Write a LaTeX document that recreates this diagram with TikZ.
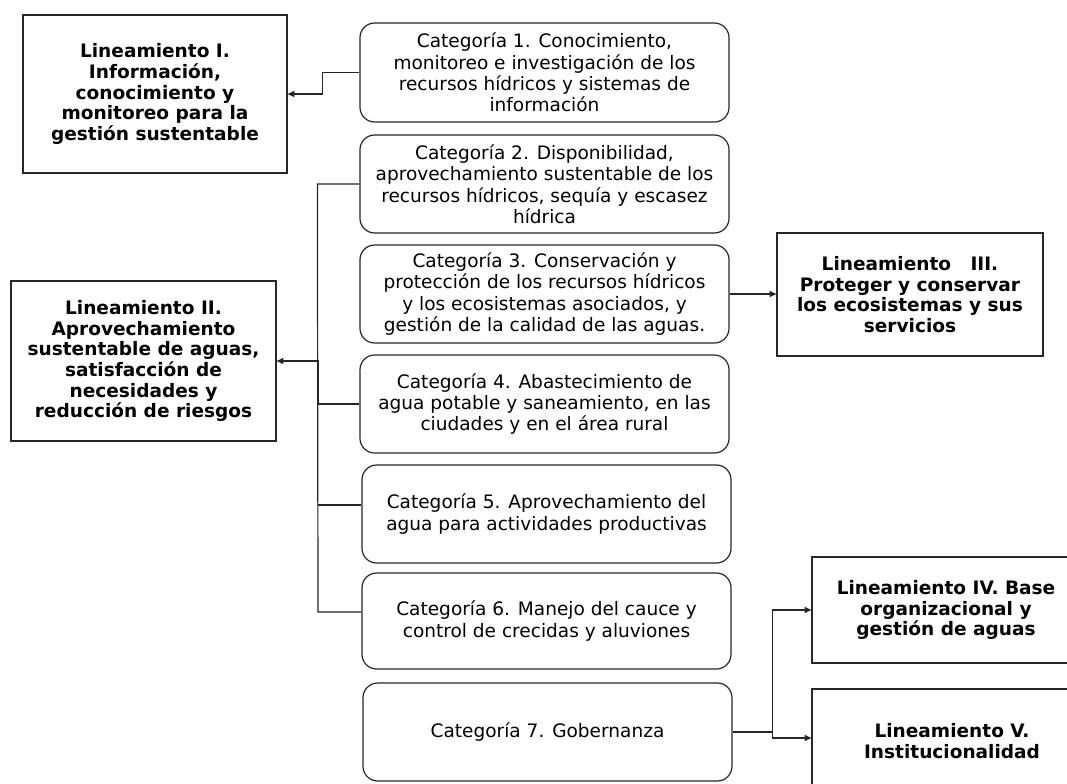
\documentclass[tikz,border=0pt]{standalone}
\usepackage{fontspec}
\setmainfont{DejaVu Sans}
\usetikzlibrary{arrows.meta}
\begin{document}
\begin{tikzpicture}[x=0.75pt,y=-0.75pt,
  base/.style={draw=black!85, line width=0.9pt, align=center, inner sep=0pt, fill=white},
  dims/.style 2 args={minimum width=#1*0.75pt, minimum height=#2*0.75pt},
  cat/.style={base, rounded corners=11pt, font=\fontsize{13.9pt}{16.1pt}\selectfont},
  lin/.style={base, font=\fontsize{13.9pt}{15.5pt}\selectfont\bfseries},
  conn/.style={line width=0.9pt, draw=black!85},
  arr/.style={conn, -{Triangle[length=5pt,width=4.5pt]}}
]
\useasboundingbox (0,0) rectangle (1067,783);
\clip (0,0) rectangle (1067,783);
\fill[white] (0,0) rectangle (1067,783);

% Lineamientos
\node[lin, dims={264}{158}] (l1) at (155,94) {Lineamiento I.\\Información,\\conocimiento y\\monitoreo para la\\gestión sustentable};
\node[lin, dims={265}{160}] (l2) at (143.5,361) {Lineamiento II.\\Aprovechamiento\\sustentable de aguas,\\satisfacción de\\necesidades y\\reducción de riesgos};
\node[lin, dims={266}{123}] (l3) at (910,294.5) {Lineamiento~~~III.\\Proteger y conservar\\los ecosistemas y sus\\servicios};
\node[lin, dims={268}{106}] (l4) at (946,610) {Lineamiento IV. Base\\organizacional y\\gestión de aguas};
\node[lin, dims={280}{104}] (l5) at (952,741) {Lineamiento V.\\Institucionalidad};

% Categorias
\node[cat, dims={369}{99}] (c1) at (544.5,72.5) {Categoría 1. Conocimiento,\\monitoreo e investigación de los\\recursos hídricos y sistemas de\\información};
\node[cat, dims={369}{98}] (c2) at (544.5,184) {Categoría 2. Disponibilidad,\\aprovechamiento sustentable de los\\recursos hídricos, sequía y escasez\\hídrica};
\node[cat, dims={369}{98}] (c3) at (544.5,294) {Categoría 3. Conservación y\\protección de los recursos hídricos\\y los ecosistemas asociados, y\\gestión de la calidad de las aguas.};
\node[cat, dims={369}{98}] (c4) at (544.5,404) {Categoría 4. Abastecimiento de\\agua potable y saneamiento, en las\\ciudades y en el área rural};
\node[cat, dims={369}{98}] (c5) at (546.5,514) {Categoría 5. Aprovechamiento del\\agua para actividades productivas};
\node[cat, dims={369}{96}] (c6) at (546.5,621) {Categoría 6. Manejo del cauce y\\control de crecidas y aluviones};
\node[cat, dims={369}{98}] (c7) at (547.5,732) {Categoría 7. Gobernanza};

% Conectores
\draw[arr] (c1.west) -- ++(-37,0) |- (l1.east);
\draw[conn] (c2.west) -- ++(-42,0) coordinate (btop) -- (318,612) coordinate (bbot) -- ([yshift=6.75pt]c6.west);
\draw[conn] (318,505) -- ([yshift=6.75pt]c5.west);
\draw[arr] (c4.west) -- ++(-41,0) |- (l2.east);
\draw[arr] (c3.east) -- (l3.west |- c3.east);
\draw[conn] (c7.east) -- ++(40,0) coordinate (fork);
\draw[arr] (fork) |- (l4.west);
\draw[arr] (fork) |- ([yshift=2.25pt]l5.west);
\end{tikzpicture}
\end{document}
